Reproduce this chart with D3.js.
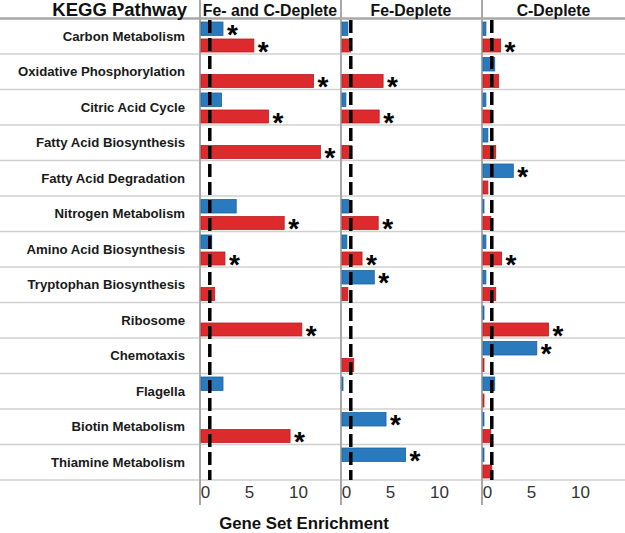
<!DOCTYPE html>
<html><head><meta charset="utf-8">
<script src="https://cdn.jsdelivr.net/npm/d3@7"></script>
<style>body{margin:0;background:#fff}svg{display:block;font-family:"Liberation Sans",Arial,sans-serif}</style>
</head><body><svg id="c" width="625" height="533"></svg>
<script>
const pathways = ["Carbon Metabolism","Oxidative Phosphorylation","Citric Acid Cycle","Fatty Acid Biosynthesis","Fatty Acid Degradation","Nitrogen Metabolism","Amino Acid Biosynthesis","Tryptophan Biosynthesis","Ribosome","Chemotaxis","Flagella","Biotin Metabolism","Thiamine Metabolism"];
const conditions = ["Fe- and C-Deplete","Fe-Deplete","C-Deplete"];
const feCBlue = [2.35,0,2.2,0,0,3.7,1.2,0,0,0,2.35,0,0];
const feCRed  = [5.5,11.6,7.0,12.3,0,8.6,2.55,1.5,10.4,0,0,9.2,0];
const feBlue  = [0.7,0,0.5,0,0,0.8,0.6,3.4,0,0,0.2,4.6,6.6];
const feRed   = [1.0,4.3,3.9,1.1,0,3.8,2.15,0.7,0,1.3,0,0,0];
const cBlue   = [0.4,1.3,0.4,0.6,3.2,0.1,0.4,0.4,0.1,5.6,1.3,0.1,0.1];
const cRed    = [1.9,1.7,1.0,1.4,0.6,0.9,2.0,1.4,6.8,0.1,0.1,0.9,1.0];
const feCBlueSig = [1,0,0,0,0,0,0,0,0,0,0,0,0];
const feCRedSig  = [1,1,1,1,0,1,1,0,1,0,0,1,0];
const feBlueSig  = [0,0,0,0,0,0,0,1,0,0,0,1,1];
const feRedSig   = [0,1,1,0,0,1,1,0,0,0,0,0,0];
const cBlueSig   = [0,0,0,0,1,0,0,0,0,1,0,0,0];
const cRedSig    = [1,0,0,0,0,0,1,0,1,0,0,0,0];
const ticks = [0,5,10];
const threshold = 1;

const panels = [
  {title: conditions[0], blue: feCBlue, red: feCRed, bs: feCBlueSig, rs: feCRedSig, x0: 200, x1: 340},
  {title: conditions[1], blue: feBlue, red: feRed, bs: feBlueSig, rs: feRedSig, x0: 341, x1: 481},
  {title: conditions[2], blue: cBlue, red: cRed, bs: cBlueSig, rs: cRedSig, x0: 482, x1: 625}
];

const svg = d3.select("#c");
const W = 625;
const yTop = 18.5, yBottom = 480;
const y = d3.scaleBand().domain(pathways).range([yTop, yBottom]).padding(0);
const rh = y.bandwidth();
const BLUE = "#2a7bbd", BLUE_E = "#1f63a0", RED = "#dd2a2c", RED_E = "#b81e22";

svg.append("g").selectAll("line").data(pathways).join("line")
  .attr("x1", 0).attr("x2", W)
  .attr("y1", d => y(d) + rh).attr("y2", d => y(d) + rh)
  .attr("stroke", "#d0d0d0").attr("stroke-width", 1.5);
svg.append("line").attr("x1", 0).attr("x2", W).attr("y1", yTop).attr("y2", yTop)
  .attr("stroke", "#a8a8a8").attr("stroke-width", 2.5);

svg.append("text").attr("x", 187).attr("y", 16).attr("text-anchor", "end")
  .attr("font-weight", "bold").attr("font-size", 18.5).attr("fill", "#111").text("KEGG Pathway");

svg.append("g").selectAll("text").data(pathways).join("text")
  .attr("x", 185).attr("y", d => y(d) + rh / 2 + 4.5)
  .attr("text-anchor", "end").attr("font-weight", "bold").attr("font-size", 13.2)
  .attr("fill", "#1a1a1a").text(d => d);

panels.forEach((p, pi) => {
  const x = d3.scaleLinear().domain([0, 14.3]).range([p.x0, p.x0 + 140]);
  const g = svg.append("g");
  g.append("line").attr("x1", p.x0).attr("x2", p.x0).attr("y1", 0).attr("y2", 505)
    .attr("stroke", "#a8a8a8").attr("stroke-width", 2);
  g.append("text").attr("x", (p.x0 + p.x1) / 2).attr("y", 15.5)
    .attr("text-anchor", "middle").attr("font-weight", "bold").attr("font-size", 15.8)
    .attr("fill", "#111").text(p.title);
  const rows = pathways.map((d, i) => ({d, i}));
  g.selectAll("rect.b").data(rows.filter(r => p.blue[r.i] > 0)).join("rect")
    .attr("x", x(0) + 1).attr("y", r => y(r.d) + 3.5)
    .attr("width", r => Math.max(1, x(p.blue[r.i]) - x(0) - 1)).attr("height", 13.5)
    .attr("fill", BLUE).attr("stroke", BLUE_E).attr("stroke-width", 0.8);
  g.selectAll("rect.r").data(rows.filter(r => p.red[r.i] > 0)).join("rect")
    .attr("x", x(0) + 1).attr("y", r => y(r.d) + 20.5)
    .attr("width", r => Math.max(1, x(p.red[r.i]) - x(0) - 1)).attr("height", 13)
    .attr("fill", RED).attr("stroke", RED_E).attr("stroke-width", 0.8);
  g.selectAll("text.bs").data(rows.filter(r => p.bs[r.i])).join("text")
    .attr("x", r => x(p.blue[r.i]) + 4).attr("y", r => y(r.d) + 3.5 + 6.75 + 15)
    .attr("font-size", 28).attr("font-weight", "bold").attr("fill", "#000").text("*");
  g.selectAll("text.rs").data(rows.filter(r => p.rs[r.i])).join("text")
    .attr("x", r => x(p.red[r.i]) + 4).attr("y", r => y(r.d) + 20.5 + 6.5 + 15)
    .attr("font-size", 28).attr("font-weight", "bold").attr("fill", "#000").text("*");
  g.append("line").attr("x1", x(threshold)).attr("x2", x(threshold))
    .attr("y1", 20).attr("y2", yBottom)
    .attr("stroke", "#000").attr("stroke-width", 3.5).attr("stroke-dasharray", "13,5");
  const ax = g.append("g").attr("transform", `translate(0,${yBottom})`)
    .call(d3.axisBottom(x).tickValues(ticks).tickSize(0).tickPadding(6));
  ax.select(".domain").remove();
  ax.selectAll("text").attr("font-size", 17).attr("fill", "#333")
    .attr("font-family", "\"Liberation Sans\",Arial,sans-serif")
    .attr("dx", d => d === 0 ? 5 : 0);
});

svg.append("text").attr("x", 304).attr("y", 529).attr("text-anchor", "middle")
  .attr("font-weight", "bold").attr("font-size", 16.8).attr("fill", "#111").text("Gene Set Enrichment");
</script></body></html>
